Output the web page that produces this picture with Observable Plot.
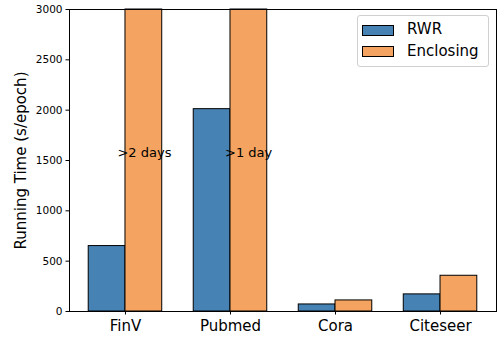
<!DOCTYPE html>
<html>
<head>
<meta charset="utf-8">
<script src="https://cdn.jsdelivr.net/npm/d3@7"></script>
<script src="https://cdn.jsdelivr.net/npm/@observablehq/plot@0.6"></script>
<style>
  html, body { margin: 0; padding: 0; background: #fff; }
  #wrap { position: relative; width: 498px; height: 339px; font-family: "DejaVu Sans", sans-serif; }
  .lg-box { position: absolute; box-sizing: border-box; border: 1px solid #d0d0d0; border-radius: 3px; background: rgba(255,255,255,0.8); }
  .lg-patch { position: absolute; box-sizing: border-box; border: 1px solid #000; }
  .lg-text { position: absolute; font-size: 15px; color: #000; line-height: 1; white-space: nowrap; }
</style>
</head>
<body>
<div id="wrap"></div>
<script>
const categories = ["FinV", "Pubmed", "Cora", "Citeseer"];
const series = ["RWR", "Enclosing"];
const rwrValues = [650, 2010, 70, 170];
const enclosingValues = [3000, 3000, 110, 355];
const yTicks = [0, 500, 1000, 1500, 2000, 2500, 3000];
const annotCategories = ["FinV", "Pubmed"];
const annotLabels = [">2 days", ">1 day"];
const annotValues = [1500, 1500];
const colors = ["#4682b4", "#f4a460"];

const rwrData = categories.map((c, i) => ({category: c, value: rwrValues[i]}));
const encData = categories.map((c, i) => ({category: c, value: enclosingValues[i]}));
const annData = annotCategories.map((c, i) => ({category: c, label: annotLabels[i], value: annotValues[i]}));

const W = 498, H = 339, ml = 69, mr = 2, mt = 9, mb = 28;
const pInner = 0.3, pOuter = 0.183;
const step = (W - ml - mr) / (categories.length - pInner + 2 * pOuter);
const half = step * (1 - pInner) / 2;

const chart = Plot.plot({
  width: W, height: H,
  marginLeft: ml, marginRight: mr, marginTop: mt, marginBottom: mb,
  style: {fontFamily: "DejaVu Sans, sans-serif", background: "white", color: "black"},
  x: {domain: categories, paddingInner: pInner, paddingOuter: pOuter, round: false, label: null},
  y: {domain: [0, 3000], label: null},
  marks: [
    Plot.barY(rwrData, {x: "category", y: "value", fill: colors[0], stroke: "black", strokeWidth: 1, insetRight: half, insetLeft: 0}),
    Plot.barY(encData, {x: "category", y: "value", fill: colors[1], stroke: "black", strokeWidth: 1, insetLeft: half, insetRight: 0}),
    Plot.text(annData.slice(0, 1), {x: "category", y: "value", text: "label", textAnchor: "start", dx: -8, dy: -7.5, fontSize: 13, fill: "black"}),
    Plot.text(annData.slice(1, 2), {x: "category", y: "value", text: "label", textAnchor: "start", dx: -5.5, dy: -7.5, fontSize: 13, fill: "black"}),
    Plot.axisY({ticks: yTicks, tickFormat: d => String(d), tickSize: 3.5, tickPadding: 3.5, fontSize: 10.5, label: "Running Time (s/epoch)", labelAnchor: "center", labelArrow: "none", labelOffset: 54}),
    Plot.axisX({tickSize: 3.5, tickPadding: 5.2, fontSize: 15, label: null}),
    Plot.frame({stroke: "black", strokeWidth: 1})
  ]
});
chart.querySelectorAll("[aria-label='y-axis label'] text, g[aria-label='y-axis label']").forEach(e => e.setAttribute("font-size", "15"));
const wrap = document.getElementById("wrap");
wrap.appendChild(chart);

// legend
const lg = document.createElement("div");
lg.className = "lg-box";
Object.assign(lg.style, {left: "357px", top: "15px", width: "132px", height: "52px"});
wrap.appendChild(lg);
const rowsY = [30, 51.5];
series.forEach((s, i) => {
  const p = document.createElement("div");
  p.className = "lg-patch";
  Object.assign(p.style, {left: "362px", top: (rowsY[i] - 5.5) + "px", width: "32px", height: "11px", background: colors[i]});
  wrap.appendChild(p);
  const t = document.createElement("div");
  t.className = "lg-text";
  t.textContent = s;
  Object.assign(t.style, {left: "407px", top: (rowsY[i] - 8) + "px"});
  wrap.appendChild(t);
});
</script>
</body>
</html>
